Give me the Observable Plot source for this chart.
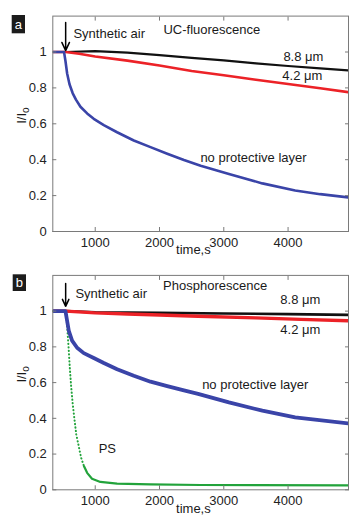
<!DOCTYPE html>
<html><head><meta charset="utf-8">
<script src="https://cdn.jsdelivr.net/npm/d3@7"></script>
<script src="https://cdn.jsdelivr.net/npm/@observablehq/plot@0.6"></script>
<style>
body{margin:0;background:#fff;}
#chart{width:349px;height:517px;position:relative;overflow:hidden;}
#chart svg{display:block;}
</style>
</head><body><div id="chart"></div>
<script>
// ---------- data ----------
const xTicks = [1000, 2000, 3000, 4000];
const yTicks = [0, 0.2, 0.4, 0.6, 0.8, 1];
const airTime = 540;

// panel a : UC-fluorescence
const aBlackT = [340, 540, 1000, 1500, 2000, 2500, 3000, 3500, 4000, 4500, 4940];
const aBlackV = [1.0, 1.0, 1.005, 0.996, 0.983, 0.967, 0.953, 0.937, 0.922, 0.909, 0.897];
const aRedT = [340, 540, 750, 1000, 1500, 2000, 2500, 3000, 3500, 4000, 4500, 4940];
const aRedV = [1.0, 1.0, 0.99, 0.975, 0.952, 0.925, 0.894, 0.870, 0.845, 0.822, 0.798, 0.776];
const aBlueT = [340, 515, 537, 563, 600, 650, 700, 770, 874, 977, 1133, 1340, 1600, 1860, 2120, 2380, 2640, 3080, 3600, 4110, 4500, 4940];
const aBlueV = [1.0, 1.0, 0.95, 0.88, 0.82, 0.77, 0.735, 0.695, 0.658, 0.628, 0.593, 0.553, 0.507, 0.47, 0.433, 0.398, 0.366, 0.321, 0.268, 0.228, 0.208, 0.19];

// panel b : Phosphorescence
const bBlackT = [340, 540, 1000, 2000, 3000, 4000, 4940];
const bBlackV = [1.0, 1.0, 0.994, 0.99, 0.987, 0.983, 0.979];
const bRedT = [340, 540, 1000, 1500, 2000, 2600, 3500, 4200, 4940];
const bRedV = [1.0, 1.0, 0.99, 0.984, 0.978, 0.971, 0.962, 0.954, 0.946];
const bBlueT = [340, 537, 563, 589, 640, 718, 822, 977, 1133, 1340, 1600, 1860, 2120, 2380, 2600, 3080, 3600, 4110, 4940];
const bBlueV = [1.0, 1.0, 0.945, 0.89, 0.835, 0.795, 0.765, 0.738, 0.71, 0.675, 0.638, 0.605, 0.58, 0.556, 0.537, 0.489, 0.443, 0.405, 0.371];
const bPsDropT = [340, 540, 560, 585, 605, 625, 650, 675, 705, 740, 780, 822];
const bPsDropV = [1.0, 1.0, 0.93, 0.8, 0.68, 0.58, 0.48, 0.4, 0.31, 0.25, 0.18, 0.135];
const bPsTailT = [822, 874, 950, 1080, 1340, 1860, 2640, 3500, 4940];
const bPsTailV = [0.135, 0.095, 0.062, 0.044, 0.035, 0.03, 0.027, 0.026, 0.025];

// annotation texts
const aNoteText = ["Synthetic air", "UC-fluorescence", "8.8 μm", "4.2 μm", "no protective layer"];
const bNoteText = ["Synthetic air", "Phosphorescence", "8.8 μm", "4.2 μm", "no protective layer", "PS"];

// ---------- drawing ----------
const FONT = "'Liberation Sans', Arial, Helvetica, sans-serif";
const rows = (t, v) => t.map((d, i) => ({t: d, v: v[i]}));

function panel(cfg) {
  const plot = Plot.plot({
    width: 349, height: cfg.height,
    marginLeft: 52.3, marginRight: 1, marginTop: cfg.marginTop, marginBottom: cfg.marginBottom,
    x: {domain: [340, 4940]},
    y: {domain: [0, 1.2]},
    style: {fontFamily: FONT, fontSize: "13px", background: "#fff", color: "#222"},
    marks: [
      ...cfg.series.map(s => Plot.line(rows(s.t, s.v), {
        x: "t", y: "v", stroke: s.color, strokeWidth: s.width,
        strokeDasharray: s.dash, strokeLinecap: s.dash ? "round" : "butt", clip: true
      })),
      Plot.frame({stroke: "#7a7a7a"}),
      Plot.axisX({ticks: xTicks, tickSize: -4, tickPadding: 10, tickFormat: d => String(d), stroke: "#7a7a7a", fill: "#222", label: null}),
      Plot.axisX({anchor: "top", ticks: xTicks, tickSize: -4, tickFormat: () => "", stroke: "#7a7a7a", label: null}),
      Plot.axisY({ticks: yTicks, tickSize: -4, tickPadding: 10, tickFormat: d => String(d), stroke: "#7a7a7a", fill: "#222", label: null}),
      Plot.axisY({anchor: "right", ticks: yTicks, tickSize: -4, tickFormat: () => "", stroke: "#7a7a7a", label: null}),
      Plot.arrow([airTime], {x1: d => d, x2: d => d, y1: cfg.arrow[0], y2: cfg.arrow[1], stroke: "#000", strokeWidth: 1.5, headLength: 9, headAngle: 50}),
      Plot.text(cfg.notes, {x: "x", y: "y", text: "text", textAnchor: "start", fill: "#1a1a1a"}),
      Plot.text(["time,s"], {x: 2527, frameAnchor: "bottom", dy: cfg.xLabelDy, fill: "#1a1a1a"}),
      Plot.text(["I/Io"], {y: 0.6, frameAnchor: "left", dx: -31, rotate: -90, fill: "#1a1a1a"})
    ]
  });
  const svg = d3.select(plot);
  // subscript on y label
  svg.selectAll("text").filter(function() { return this.textContent === "I/Io"; })
    .each(function() {
      const t = d3.select(this);
      t.text("I/I");
      t.append("tspan").attr("dy", "0.35em").attr("font-size", "10px").text("o");
    });
  // panel letter
  const g = svg.append("g");
  g.append("rect").attr("x", cfg.box[0]).attr("y", cfg.box[1]).attr("width", cfg.box[2]).attr("height", cfg.box[3]).attr("fill", "#1c1c1c");
  g.append("text").attr("x", cfg.box[0] + cfg.box[2] / 2).attr("y", cfg.box[1] + cfg.box[3] / 2 + 4.5)
    .attr("text-anchor", "middle").attr("fill", "#fff").attr("font-size", "13px").attr("font-family", FONT).text(cfg.letter);
  return plot;
}

const chart = document.getElementById("chart");

chart.appendChild(panel({
  letter: "a", height: 258, marginTop: 15.6, marginBottom: 27, xLabelDy: 22,
  box: [11.7, 15, 13.3, 18.3],
  arrow: [1.164, 1.008],
  series: [
    {t: aBlackT, v: aBlackV, color: "#111", width: 2.2},
    {t: aRedT, v: aRedV, color: "#ec2227", width: 2.6},
    {t: aBlueT, v: aBlueV, color: "#3a44a8", width: 2.6}
  ],
  notes: [
    {x: 661, y: 1.103, text: aNoteText[0]},
    {x: 2061, y: 1.125, text: aNoteText[1]},
    {x: 3927, y: 0.975, text: aNoteText[2]},
    {x: 3910, y: 0.869, text: aNoteText[3]},
    {x: 2636, y: 0.412, text: aNoteText[4]}
  ]
}));

chart.appendChild(panel({
  letter: "b", height: 259, marginTop: 16.9, marginBottom: 27.7, xLabelDy: 23.5,
  box: [12.7, 16.3, 13.3, 16.7],
  arrow: [1.155, 1.027],
  series: [
    {t: bBlackT, v: bBlackV, color: "#111", width: 2.6},
    {t: bRedT, v: bRedV, color: "#ec2227", width: 3.4},
    {t: bPsDropT, v: bPsDropV, color: "#22a33b", width: 2, dash: "0.3,3.2"},
    {t: bPsTailT, v: bPsTailV, color: "#22a33b", width: 2.2},
    {t: bBlueT, v: bBlueV, color: "#3a44a8", width: 3.8}
  ],
  notes: [
    {x: 692, y: 1.099, text: bNoteText[0]},
    {x: 2056, y: 1.144, text: bNoteText[1]},
    {x: 3880, y: 1.062, text: bNoteText[2]},
    {x: 3880, y: 0.893, text: bNoteText[3]},
    {x: 2663, y: 0.587, text: bNoteText[4]},
    {x: 1054, y: 0.23, text: bNoteText[5]}
  ]
}));
</script>
</body></html>
